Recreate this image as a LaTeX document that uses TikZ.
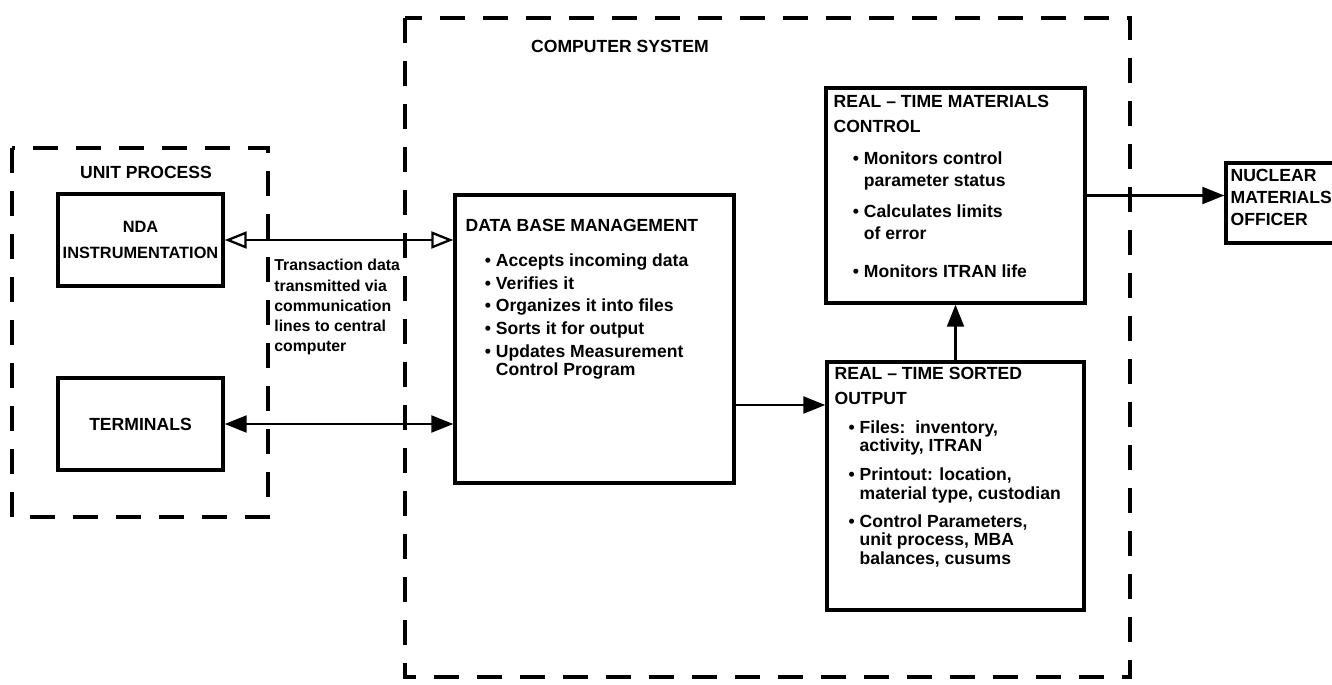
\documentclass[tikz,border=0pt]{standalone}
\usepackage{fontspec}
\setmainfont{Liberation Sans}
\usetikzlibrary{arrows.meta}
\newcommand{\bul}{\textbullet\ }
\newcommand{\bsp}{\phantom{\textbullet\ }}
\newcommand{\ind}{\hspace*{1.1em}}
\begin{document}
\begin{tikzpicture}[x=0.02cm,y=-0.02cm,
  every node/.style={font=\fontsize{10}{10.5}\selectfont\bfseries},
  frame/.style={line width=2pt,dash pattern=on 0.5cm off 0.36cm},
  box/.style={draw,line width=2pt,inner sep=0pt},
  txt/.style={inner sep=0pt,align=left,anchor=north west},
  link/.style={line width=1.3pt,-{Triangle[length=0.44cm,width=0.34cm]}},
  both/.style={line width=1.3pt,{Triangle[length=0.44cm,width=0.34cm]}-{Triangle[length=0.44cm,width=0.34cm]}},
  hollow/.style={line width=1.3pt,{Triangle[open,length=0.44cm,width=0.34cm]}-{Triangle[open,length=0.44cm,width=0.34cm]}}]
\useasboundingbox (0,0) rectangle (1332,684);
\clip (0,0) rectangle (1332,684);
\draw[frame] (12,148) rectangle (268,517);
\draw[frame] (405,18) rectangle (1130,677);
\node (unitlbl) at (146,172) {UNIT PROCESS};
\node (complbl) at (620,46) {COMPUTER SYSTEM};

\node[box,minimum width=3.3cm,minimum height=1.84cm,align=center,font=\fontsize{9.3}{10}\selectfont\bfseries] (nda) at (140.5,240) {NDA\\[5pt]INSTRUMENTATION};
\node[box,minimum width=3.3cm,minimum height=1.84cm] (term) at (140.5,424) {TERMINALS};
\node[txt,font=\fontsize{9}{10}\selectfont\bfseries] (trans) at (274,259) {Transaction data\\[1.5pt]transmitted via\\[1.5pt]communication\\[1.5pt]lines to central\\[1.5pt]computer};

\node[box,minimum width=5.58cm,minimum height=5.76cm] (db) at (594.5,339) {};
\node[txt] (dbtext) at ([shift={(12,26)}]db.north west) {DATA BASE MANAGEMENT\\[9pt]
\ind\bul Accepts incoming data\\[2.5pt]
\ind\bul Verifies it\\[2.5pt]
\ind\bul Organizes it into files\\[2.5pt]
\ind\bul Sorts it for output\\[2.5pt]
\ind\bul Updates Measurement\\
\ind\bsp Control Program};

\node[box,minimum width=5.18cm,minimum height=4.3cm] (mat) at (955.5,195.5) {};
\node[txt] (mattext) at ([shift={(9,9)}]mat.north west) {REAL -- TIME MATERIALS\\[3.5pt]
CONTROL\\[8pt]
\ind\bul Monitors control\\[2pt]
\ind\bsp parameter status\\[7pt]
\ind\bul Calculates limits\\[2pt]
\ind\bsp of error\\[11pt]
\ind\bul Monitors ITRAN life};

\node[box,minimum width=5.14cm,minimum height=4.96cm] (sorted) at (955.5,486) {};
\node[txt] (sortedtext) at ([shift={(9,7)}]sorted.north west) {REAL -- TIME SORTED\\[3.5pt]
OUTPUT\\[6pt]
\hspace*{0.8em}\bul Files:\ \ inventory,\\
\hspace*{0.8em}\bsp activity, ITRAN\\[6pt]
\hspace*{0.8em}\bul Printout: location,\\
\hspace*{0.8em}\bsp material type, custodian\\[5.5pt]
\hspace*{0.8em}\bul Control Parameters,\\
\hspace*{0.8em}\bsp unit process, MBA\\
\hspace*{0.8em}\bsp balances, cusums};

\node[box,minimum width=2.4cm,minimum height=1.6cm] (nuc) at (1286,203) {};
\node[txt] (nuctext) at ([shift={(6,8)}]nuc.north west) {NUCLEAR\\[2pt]MATERIALS\\[2pt]OFFICER};

\coordinate (dbout) at (734,405);
\draw[hollow] (nda.east) -- (nda.east -| db.west);
\draw[both] (term.east) -- (term.east -| db.west);
\draw[link] (dbout) -- (dbout -| sorted.west);
\draw[link] (sorted.north) -- (mat.south);
\draw[link] (mat.east) -- (mat.east -| nuc.west);
\end{tikzpicture}
\end{document}
